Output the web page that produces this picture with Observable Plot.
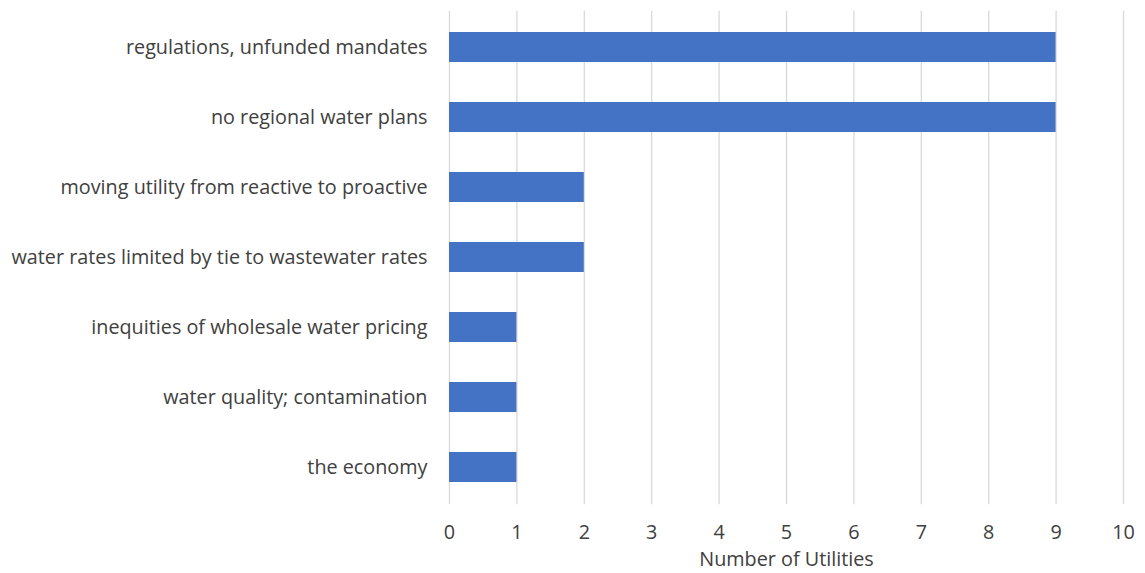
<!DOCTYPE html>
<html>
<head>
<meta charset="utf-8">
<script src="https://cdn.jsdelivr.net/npm/d3@7"></script>
<script src="https://cdn.jsdelivr.net/npm/@observablehq/plot@0.6"></script>
<style>
  html, body { margin: 0; padding: 0; background: #fff; }
  #chart svg { display: block; }
</style>
</head>
<body>
<div id="chart"></div>
<script>
const categories = [
  "regulations, unfunded mandates",
  "no regional water plans",
  "moving utility from reactive to proactive",
  "water rates limited by tie to wastewater rates",
  "inequities of wholesale water pricing",
  "water quality; contamination",
  "the economy"
];
const counts = [9, 9, 2, 2, 1, 1, 1];
const xTicks = [0, 1, 2, 3, 4, 5, 6, 7, 8, 9, 10];
const xLabel = "Number of Utilities";

const data = categories.map((c, i) => ({category: c, value: counts[i]}));

const font = "'Open Sans', sans-serif";
const textColor = "#404040";
const fs = 19.8;

const chart = Plot.plot({
  width: 1145,
  height: 573,
  marginTop: 10.75,
  marginBottom: 68.75,
  marginLeft: 449,
  marginRight: 22,
  style: {fontFamily: font, fontSize: fs + "px", color: textColor, background: "#fff"},
  x: {domain: [0, 10]},
  y: {domain: categories, paddingInner: 0.567, paddingOuter: 0.2835},
  marks: [
    Plot.gridX(xTicks, {stroke: "#d9d9d9", strokeOpacity: 1, strokeWidth: 1.3}),
    Plot.barX(data, {x: "value", y: "category", fill: "#4472C4"}),
    Plot.axisX(xTicks, {tickSize: 0, tickPadding: 20, label: xLabel, labelAnchor: "center", labelOffset: 61, labelArrow: "none", fill: textColor, fontSize: fs}),
    Plot.axisY({tickSize: 0, tickPadding: 22, label: null, fill: textColor, fontSize: fs})
  ]
});
document.getElementById("chart").appendChild(chart);
</script>
</body>
</html>
